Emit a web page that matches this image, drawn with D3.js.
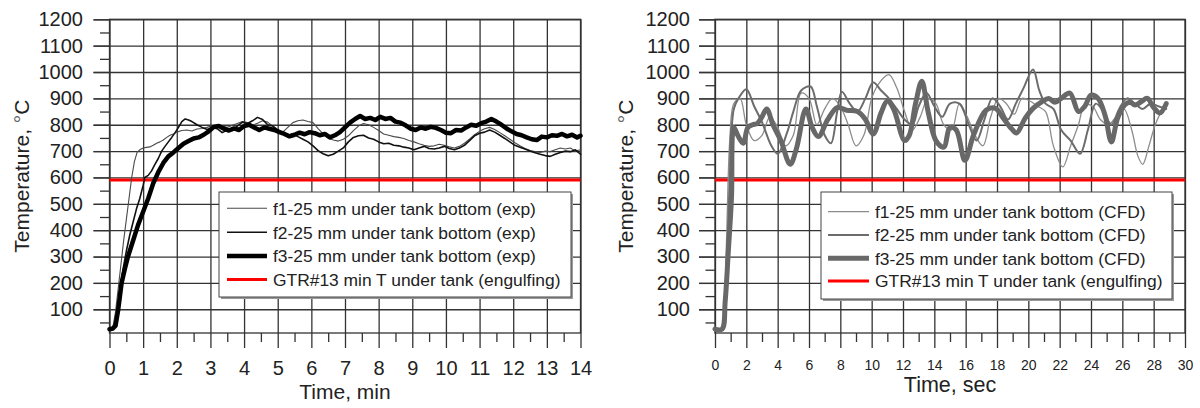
<!DOCTYPE html>
<html>
<head>
<meta charset="utf-8">
<script src="https://cdn.jsdelivr.net/npm/d3@7"></script>
<style>
  body { margin: 0; background: #fff; }
  svg { display: block; font-family: "Liberation Sans", Arial, sans-serif; }
  .axis line { stroke: #333; stroke-width: 1.3; }
  .axis text { fill: #222; }
</style>
</head>
<body>
<svg id="chart" width="1200" height="408"></svg>
<script>
// ---- Temperature scale (°C) ----
const tempMin = 10, tempMax = 1200;
const tempMajorTicks = d3.range(100, 1201, 100);
const tempMinorTicks = d3.range(50, 1151, 100);

// GTR#13 minimum temperature under the tank (engulfing fire)
const gtrMinTemp = 590;

// ---- Experiment: time in minutes ----
const expTimeTicks = d3.range(0, 15, 1);
const expTimeMinor = d3.range(0.5, 14, 1);
const expLegend = [
  "f1-25 mm under tank bottom (exp)",
  "f2-25 mm under tank bottom (exp)",
  "f3-25 mm under tank bottom (exp)",
  "GTR#13 min T under tank (engulfing)"
];
const expF1 = [[0,25],[0.1,32],[0.18,90],[0.26,180],[0.34,270],[0.42,360],[0.5,440],[0.58,520],[0.66,600],[0.74,660],[0.82,695],[0.9,705],[1.0,712],[1.1,714],[1.2,716],[1.3,722],[1.4,730],[1.5,735],[1.6,742],[1.7,752],[1.8,760],[1.9,765],[2.0,772],[2.15,778],[2.3,780],[2.45,776],[2.6,784],[2.75,786],[2.9,790],[3.05,796],[3.2,790],[3.35,795],[3.5,790],[3.65,798],[3.8,805],[3.95,812],[4.1,808],[4.25,798],[4.4,806],[4.55,815],[4.7,810],[4.85,795],[5.0,782],[5.15,772],[5.3,790],[5.45,808],[5.6,815],[5.75,818],[5.9,812],[6.05,808],[6.2,785],[6.35,765],[6.5,750],[6.65,742],[6.8,738],[6.95,745],[7.1,758],[7.25,778],[7.4,795],[7.55,805],[7.7,800],[7.85,790],[8.0,778],[8.15,765],[8.3,760],[8.45,755],[8.6,752],[8.75,748],[8.9,740],[9.05,735],[9.2,728],[9.35,722],[9.5,718],[9.65,720],[9.8,726],[9.95,722],[10.1,716],[10.25,712],[10.4,718],[10.55,730],[10.7,745],[10.85,762],[11.0,775],[11.15,785],[11.3,790],[11.45,782],[11.6,770],[11.75,758],[11.9,745],[12.05,732],[12.2,720],[12.35,710],[12.5,702],[12.65,698],[12.8,695],[12.95,700],[13.1,698],[13.25,705],[13.4,712],[13.55,708],[13.7,712],[13.85,700],[14.0,705]];
const expF2 = [[0,25],[0.12,30],[0.2,70],[0.3,170],[0.4,250],[0.5,320],[0.6,380],[0.7,430],[0.8,480],[0.9,520],[1.0,570],[1.05,600],[1.15,608],[1.25,625],[1.35,650],[1.45,672],[1.55,700],[1.65,718],[1.75,735],[1.85,752],[1.95,770],[2.05,790],[2.15,812],[2.25,822],[2.35,818],[2.45,812],[2.6,800],[2.75,790],[2.9,782],[3.05,790],[3.2,785],[3.35,770],[3.5,780],[3.65,778],[3.8,795],[3.95,810],[4.1,805],[4.25,815],[4.4,828],[4.55,820],[4.7,800],[4.85,795],[5.0,780],[5.15,770],[5.3,760],[5.45,765],[5.6,755],[5.75,745],[5.9,735],[6.05,720],[6.2,702],[6.35,690],[6.5,682],[6.65,688],[6.8,700],[6.95,712],[7.1,735],[7.25,752],[7.4,758],[7.55,760],[7.7,750],[7.85,745],[8.0,735],[8.15,728],[8.3,730],[8.45,722],[8.6,720],[8.75,715],[8.9,712],[9.05,705],[9.2,712],[9.35,718],[9.5,710],[9.65,708],[9.8,712],[9.95,718],[10.1,710],[10.25,705],[10.4,712],[10.55,722],[10.7,740],[10.85,758],[11.0,768],[11.15,772],[11.3,780],[11.45,772],[11.6,760],[11.75,748],[11.9,735],[12.05,722],[12.2,715],[12.35,708],[12.5,700],[12.65,694],[12.8,688],[12.95,683],[13.1,680],[13.25,688],[13.4,695],[13.55,700],[13.7,698],[13.85,705],[14.0,688]];
const expF3 = [[0,24],[0.1,27],[0.18,38],[0.26,100],[0.36,200],[0.45,250],[0.55,300],[0.7,360],[0.85,420],[1.0,470],[1.15,520],[1.3,578],[1.45,620],[1.6,655],[1.75,680],[1.9,695],[2.05,712],[2.2,728],[2.35,738],[2.5,748],[2.65,752],[2.8,762],[2.95,775],[3.1,792],[3.25,795],[3.4,785],[3.55,778],[3.7,786],[3.85,780],[4.0,795],[4.15,800],[4.3,790],[4.45,780],[4.6,790],[4.75,785],[4.9,780],[5.05,772],[5.2,765],[5.35,756],[5.5,762],[5.65,770],[5.8,764],[5.95,772],[6.1,768],[6.25,760],[6.4,765],[6.55,752],[6.7,760],[6.85,772],[7.0,790],[7.15,808],[7.3,822],[7.45,833],[7.6,822],[7.75,826],[7.9,818],[8.05,830],[8.2,822],[8.35,826],[8.5,812],[8.65,808],[8.8,798],[8.95,785],[9.1,780],[9.25,790],[9.4,785],[9.55,792],[9.7,788],[9.85,780],[10.0,770],[10.15,768],[10.3,780],[10.45,778],[10.6,790],[10.75,800],[10.9,796],[11.05,806],[11.2,812],[11.35,822],[11.5,812],[11.65,800],[11.8,786],[11.95,775],[12.1,765],[12.25,760],[12.4,752],[12.55,745],[12.7,742],[12.85,755],[13.0,752],[13.15,760],[13.3,758],[13.45,765],[13.6,756],[13.75,762],[13.9,752],[14.0,758]];

// ---- CFD: time in seconds ----
const cfdTimeTicks = d3.range(0, 31, 2);
const cfdTimeMinor = d3.range(1, 30, 2);
const cfdLegend = [
  "f1-25 mm under tank bottom (CFD)",
  "f2-25 mm under tank bottom (CFD)",
  "f3-25 mm under tank bottom (CFD)",
  "GTR#13 min T under tank (engulfing)"
];
const cfdF1 = [[0,25],[0.45,25],[0.7,300],[0.95,750],[1.2,880],[1.6,900],[2.0,800],[2.5,740],[3.0,760],[3.5,830],[4.0,790],[4.5,720],[5.0,760],[5.5,920],[6.0,900],[6.5,800],[7.0,860],[7.5,900],[8.0,870],[8.5,800],[9.0,720],[9.5,760],[10.0,900],[10.5,960],[11.1,990],[11.6,940],[12.1,850],[12.6,780],[13.1,830],[13.6,900],[14.1,880],[14.6,800],[15.1,780],[15.6,880],[16.1,830],[16.6,760],[17.1,720],[17.6,830],[18.1,900],[18.6,880],[19.1,840],[19.6,900],[20.1,890],[20.6,870],[21.1,850],[21.6,720],[22.2,640],[22.7,720],[23.2,800],[23.6,875],[24.1,870],[24.6,820],[25.1,800],[25.6,830],[26.1,860],[26.6,780],[27.0,680],[27.3,650],[27.7,720],[28.1,800],[28.5,850],[28.8,870]];
const cfdF2 = [[0,25],[0.45,25],[0.7,200],[0.95,600],[1.2,860],[1.5,900],[2.0,935],[2.5,870],[3.0,810],[3.6,720],[4.0,690],[4.6,770],[5.0,850],[5.5,930],[6.1,945],[6.5,870],[7.0,760],[7.4,730],[7.8,850],[8.1,925],[8.6,880],[9.1,850],[9.6,900],[10.1,960],[10.6,930],[11.1,900],[11.6,860],[12.1,820],[12.6,800],[13.0,870],[13.5,920],[14.0,870],[14.5,830],[15.0,880],[15.6,880],[16.2,800],[16.7,740],[17.2,820],[17.7,900],[18.2,870],[18.7,820],[19.2,880],[19.7,940],[20.3,1010],[20.7,930],[21.1,880],[21.6,860],[22.1,780],[22.7,740],[23.3,690],[23.8,780],[24.3,880],[24.8,850],[25.3,800],[25.8,860],[26.3,900],[26.8,880],[27.3,860],[27.8,880],[28.3,870],[28.8,860]];
const cfdF3 = [[0,25],[0.45,25],[0.65,130],[0.85,320],[1.05,520],[1.2,790],[1.45,760],[1.8,730],[2.1,790],[2.4,800],[2.7,805],[3.0,830],[3.3,860],[3.7,800],[4.2,740],[4.8,650],[5.2,710],[5.8,860],[6.2,790],[6.6,755],[7.2,820],[7.8,865],[8.4,855],[9.1,850],[9.6,820],[10.1,765],[10.6,845],[11.0,890],[11.4,860],[12.1,740],[12.4,760],[12.8,880],[13.2,965],[13.6,850],[14.1,740],[14.6,715],[15.0,790],[15.4,780],[15.95,665],[16.5,760],[17.3,855],[17.9,862],[18.4,825],[18.9,787],[19.25,769],[19.8,825],[20.3,862],[20.85,887],[21.3,900],[21.7,885],[22.1,900],[22.65,920],[23.2,850],[23.6,870],[24.0,912],[24.45,900],[24.9,835],[25.3,735],[25.7,825],[26.15,875],[26.5,885],[26.8,875],[27.2,887],[27.6,900],[28.0,865],[28.4,845],[28.8,880]];

const svg = d3.select("#chart");

const plotTop = 19.3, plotBottom = 333;
const y = d3.scaleLinear().domain([tempMin, tempMax]).range([plotBottom, plotTop]);
const intFormat = d3.format("d");

const panels = [
  {
    x0: 109.5, x1: 580.5, tMax: 14,
    ticks: expTimeTicks, minor: expTimeMinor,
    tickFont: 20, tickPad: 12.8, labelPad: 10.5,
    xTitle: "Time, min", xTitleY: 399, xTitleFont: 21,
    yTitleX: 28.5,
    curve: d3.curveLinear,
    series: [
      { data: expF1, color: "#4a4a4a", width: 1.1 },
      { data: expF2, color: "#111", width: 1.6 },
      { data: expF3, color: "#000", width: 4.5 }
    ],
    legendText: expLegend,
    legend: { x: 219, y: 192, w: 352, h: 105, rows: [208.3, 232.3, 256, 279.5], sx0: 227, sx1: 267, tx: 273 }
  },
  {
    x0: 715, x1: 1185, tMax: 30,
    ticks: cfdTimeTicks, minor: cfdTimeMinor,
    tickFont: 14, tickPad: 12, labelPad: 9,
    xTitle: "Time, sec", xTitleY: 392, xTitleFont: 21.5,
    yTitleX: 633,
    curve: d3.curveCatmullRom.alpha(0.5),
    series: [
      { data: cfdF1, color: "#8c8c8c", width: 1.3 },
      { data: cfdF2, color: "#6c6c6c", width: 2 },
      { data: cfdF3, color: "#686868", width: 5 }
    ],
    legendText: cfdLegend,
    legend: { x: 821, y: 192, w: 351, h: 107, rows: [211.7, 235, 258.3, 281], sx0: 828, sx1: 869, tx: 875 }
  }
];

panels.forEach(p => {
  const x = d3.scaleLinear().domain([0, p.tMax]).range([p.x0, p.x1]);
  const W = p.x1 - p.x0;
  const g = svg.append("g");

  // horizontal grid lines, extended left as outer major ticks
  g.append("g").attr("class", "axis")
    .attr("transform", `translate(${p.x0 - 16},0)`)
    .call(d3.axisRight(y).tickValues(tempMajorTicks).tickSize(W + 16).tickFormat(""))
    .call(a => a.select(".domain").remove());

  // y tick labels
  g.append("g").attr("class", "axis")
    .attr("transform", `translate(${p.x0},0)`)
    .call(d3.axisLeft(y).tickValues(tempMajorTicks).tickSize(16).tickPadding(p.labelPad).tickFormat(intFormat))
    .call(a => a.select(".domain").remove())
    .call(a => a.selectAll("text").attr("font-size", 20).attr("font-family", "Liberation Sans, Arial, sans-serif"));

  // y minor ticks
  g.append("g").attr("class", "axis")
    .attr("transform", `translate(${p.x0},0)`)
    .call(d3.axisLeft(y).tickValues(tempMinorTicks).tickSize(9.5).tickFormat(""))
    .call(a => a.select(".domain").remove());

  // vertical grid lines
  g.append("g").attr("class", "axis")
    .attr("transform", `translate(0,${plotTop})`)
    .call(d3.axisBottom(x).tickValues(p.ticks).tickSize(plotBottom - plotTop).tickFormat(""))
    .call(a => a.select(".domain").remove());

  // x major ticks and labels
  g.append("g").attr("class", "axis")
    .attr("transform", `translate(0,${plotBottom})`)
    .call(d3.axisBottom(x).tickValues(p.ticks).tickSize(15).tickPadding(p.tickPad).tickFormat(intFormat))
    .call(a => a.select(".domain").remove())
    .call(a => a.selectAll("text").attr("font-size", p.tickFont).attr("font-family", "Liberation Sans, Arial, sans-serif"));

  // x minor ticks
  g.append("g").attr("class", "axis")
    .attr("transform", `translate(0,${plotBottom})`)
    .call(d3.axisBottom(x).tickValues(p.minor).tickSize(9).tickFormat(""))
    .call(a => a.select(".domain").remove());

  // plot frame
  g.append("rect")
    .attr("x", p.x0).attr("y", plotTop)
    .attr("width", W).attr("height", plotBottom - plotTop)
    .attr("fill", "none").attr("stroke", "#333").attr("stroke-width", 1.3);

  // GTR#13 threshold
  g.append("line")
    .attr("x1", x(0)).attr("x2", x(p.tMax))
    .attr("y1", y(gtrMinTemp)).attr("y2", y(gtrMinTemp))
    .attr("stroke", "#ff0000").attr("stroke-width", 3);

  // temperature curves
  const line = d3.line().x(d => x(d[0])).y(d => y(d[1])).curve(p.curve);
  p.series.forEach(s => {
    g.append("path")
      .attr("d", line(s.data))
      .attr("fill", "none")
      .attr("stroke", s.color)
      .attr("stroke-width", s.width)
      .attr("stroke-linejoin", "round")
      .attr("stroke-linecap", "round");
  });

  // legend box with drop shadow
  const L = p.legend;
  g.append("rect")
    .attr("x", L.x + 2).attr("y", L.y + 2).attr("width", L.w).attr("height", L.h)
    .attr("fill", "#9a9a9a");
  g.append("rect")
    .attr("x", L.x).attr("y", L.y).attr("width", L.w).attr("height", L.h)
    .attr("fill", "#fff").attr("stroke", "#444").attr("stroke-width", 1);

  const keyStyles = p.series.concat([{ color: "#ff0000", width: 3 }]);
  keyStyles.forEach((s, i) => {
    g.append("line")
      .attr("x1", L.sx0).attr("x2", L.sx1)
      .attr("y1", L.rows[i]).attr("y2", L.rows[i])
      .attr("stroke", s.color).attr("stroke-width", s.width);
    g.append("text")
      .attr("x", L.tx).attr("y", L.rows[i] + 6.2)
      .attr("font-size", 17.4).attr("fill", "#222")
      .text(p.legendText[i]);
  });

  // axis titles
  g.append("text")
    .attr("x", (p.x0 + p.x1) / 2).attr("y", p.xTitleY)
    .attr("text-anchor", "middle")
    .attr("font-size", p.xTitleFont).attr("fill", "#222")
    .text(p.xTitle);

  const yt = g.append("text")
    .attr("transform", `translate(${p.yTitleX},${(plotTop + plotBottom) / 2}) rotate(-90)`)
    .attr("text-anchor", "middle")
    .attr("font-size", 21).attr("fill", "#222");
  yt.append("tspan").text("Temperature, ");
  yt.append("tspan").attr("fill", "#666").text("\u00B0");
  yt.append("tspan").text("C");
});
</script>
</body>
</html>
